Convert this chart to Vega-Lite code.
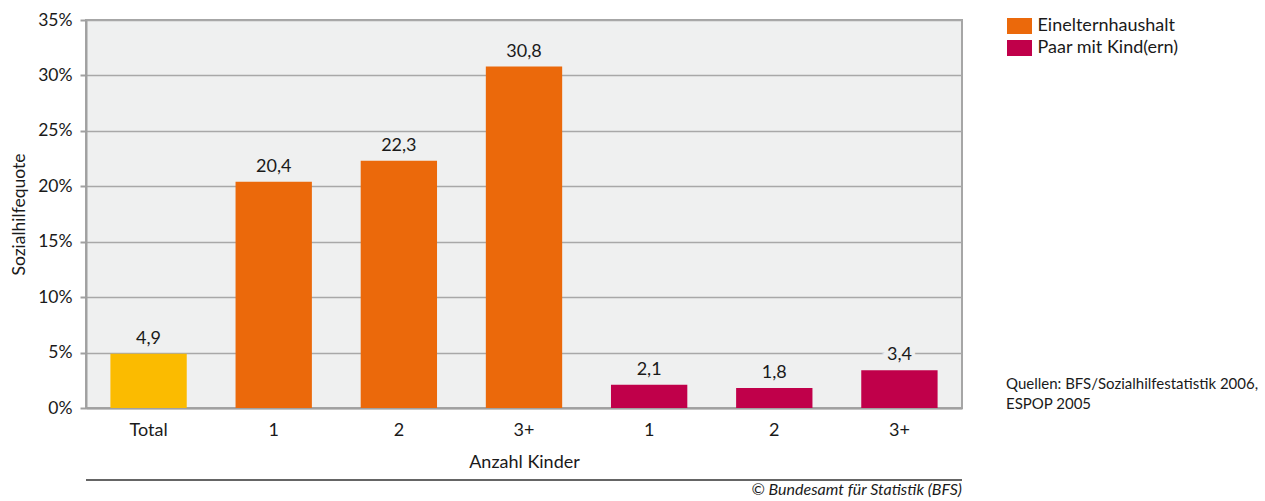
{
  "$schema": "https://vega.github.io/schema/vega-lite/v6.json",
  "width": 876,
  "height": 388,
  "autosize": {"type": "none"},
  "padding": {"left": 86, "top": 20, "right": 303, "bottom": 93},
  "background": "white",
  "config": {
    "locale": {"number": {"decimal": ",", "thousands": "'", "grouping": [3], "currency": ["CHF ", ""]}},
    "font": "Lato",
    "view": {"fill": "#eff0f0", "stroke": "#a6a6a6", "strokeWidth": 2},
    "axis": {"labelColor": "#1a1a1a", "titleColor": "#1a1a1a", "labelFont": "Lato", "titleFont": "Lato"},
    "legend": {"labelFont": "Lato", "titleFont": "Lato"}
  },
  "title": {
    "text": "© Bundesamt für Statistik (BFS)",
    "orient": "bottom",
    "anchor": "end",
    "frame": "group",
    "fontStyle": "italic",
    "fontWeight": "normal",
    "fontSize": 16,
    "color": "#1a1a1a",
    "offset": 1
  },
  "data": {
    "values": [
      {"key": "Total", "group": "Total", "value": 4.9},
      {"key": "E1", "group": "Einelternhaushalt", "value": 20.4},
      {"key": "E2", "group": "Einelternhaushalt", "value": 22.3},
      {"key": "E3+", "group": "Einelternhaushalt", "value": 30.8},
      {"key": "P1", "group": "Paar mit Kind(ern)", "value": 2.1},
      {"key": "P2", "group": "Paar mit Kind(ern)", "value": 1.8},
      {"key": "P3+", "group": "Paar mit Kind(ern)", "value": 3.4}
    ]
  },
  "layer": [
    {
      "mark": {"type": "bar"},
      "encoding": {
        "x": {
          "field": "key",
          "type": "nominal",
          "sort": null,
          "scale": {"paddingInner": 0.39, "paddingOuter": 0.195},
          "axis": {
            "title": "Anzahl Kinder",
            "labelAngle": 0,
            "ticks": false,
            "labelPadding": 13,
            "labelFontSize": 18,
            "titleFontSize": 18,
            "titleFontWeight": "normal",
            "titlePadding": 14,
            "domainColor": "#a0a0a0",
            "domainWidth": 2,
            "grid": false,
            "labelExpr": "datum.label == 'Total' ? 'Total' : substring(datum.label, 1)"
          }
        },
        "y": {
          "field": "value",
          "type": "quantitative",
          "scale": {"domain": [0, 35]},
          "axis": {
            "title": "Sozialhilfequote",
            "titleFontSize": 17.5,
            "titleFontWeight": "normal",
            "titlePadding": 9,
            "values": [0, 5, 10, 15, 20, 25, 30, 35],
            "labelExpr": "datum.value + '%'",
            "labelFontSize": 17.5,
            "labelPadding": 8,
            "tickSize": 6,
            "tickWidth": 2,
            "tickColor": "#a0a0a0",
            "domainColor": "#a0a0a0",
            "domainWidth": 2,
            "grid": true,
            "gridColor": "#a8a8a8",
            "gridWidth": 1.5
          }
        },
        "color": {
          "field": "group",
          "type": "nominal",
          "scale": {
            "domain": ["Total", "Einelternhaushalt", "Paar mit Kind(ern)"],
            "range": ["#fbbb00", "#eb690b", "#c0004a"]
          },
          "legend": {
            "values": ["Einelternhaushalt", "Paar mit Kind(ern)"],
            "title": null,
            "orient": "none",
            "legendX": 924.5,
            "legendY": -3,
            "padding": 0,
            "symbolType": "M-1.56,-1H1.56V1H-1.56Z",
            "symbolSize": 256,
            "symbolStrokeWidth": 0,
            "symbolOpacity": 1,
            "labelFontSize": 18,
            "labelColor": "#1a1a1a",
            "labelOffset": 9,
            "rowPadding": 4
          }
        }
      }
    },
    {
      "mark": {"type": "text", "baseline": "bottom", "dy": -6, "fontSize": 18, "fill": "#eff0f0", "stroke": "#eff0f0", "strokeWidth": 7},
      "encoding": {
        "x": {"field": "key", "type": "nominal", "sort": null},
        "y": {"field": "value", "type": "quantitative"},
        "text": {"field": "value", "type": "quantitative", "format": ".1f"}
      }
    },
    {
      "mark": {"type": "text", "baseline": "bottom", "dy": -6, "fontSize": 18, "color": "#1a1a1a"},
      "encoding": {
        "x": {"field": "key", "type": "nominal", "sort": null},
        "y": {"field": "value", "type": "quantitative"},
        "text": {"field": "value", "type": "quantitative", "format": ".1f"}
      }
    },
    {
      "data": {"values": [{"note": "Quellen"}]},
      "mark": {"type": "rule", "color": "#333333", "strokeWidth": 1.5},
      "encoding": {
        "y": {"datum": -6.5, "type": "quantitative"},
        "strokeDash": {
          "field": "note",
          "type": "nominal",
          "legend": {
            "title": ["Quellen: BFS/Sozialhilfestatistik 2006,", "ESPOP 2005"],
            "orient": "none",
            "legendX": 920,
            "legendY": 357,
            "padding": 0,
            "titleFontSize": 15,
            "titleFontWeight": "normal",
            "titleLineHeight": 20,
            "titleColor": "#1a1a1a",
            "titleLimit": 400,
            "labelExpr": "''",
            "symbolOpacity": 0,
            "symbolStrokeWidth": 0
          }
        }
      }
    }
  ]
}
